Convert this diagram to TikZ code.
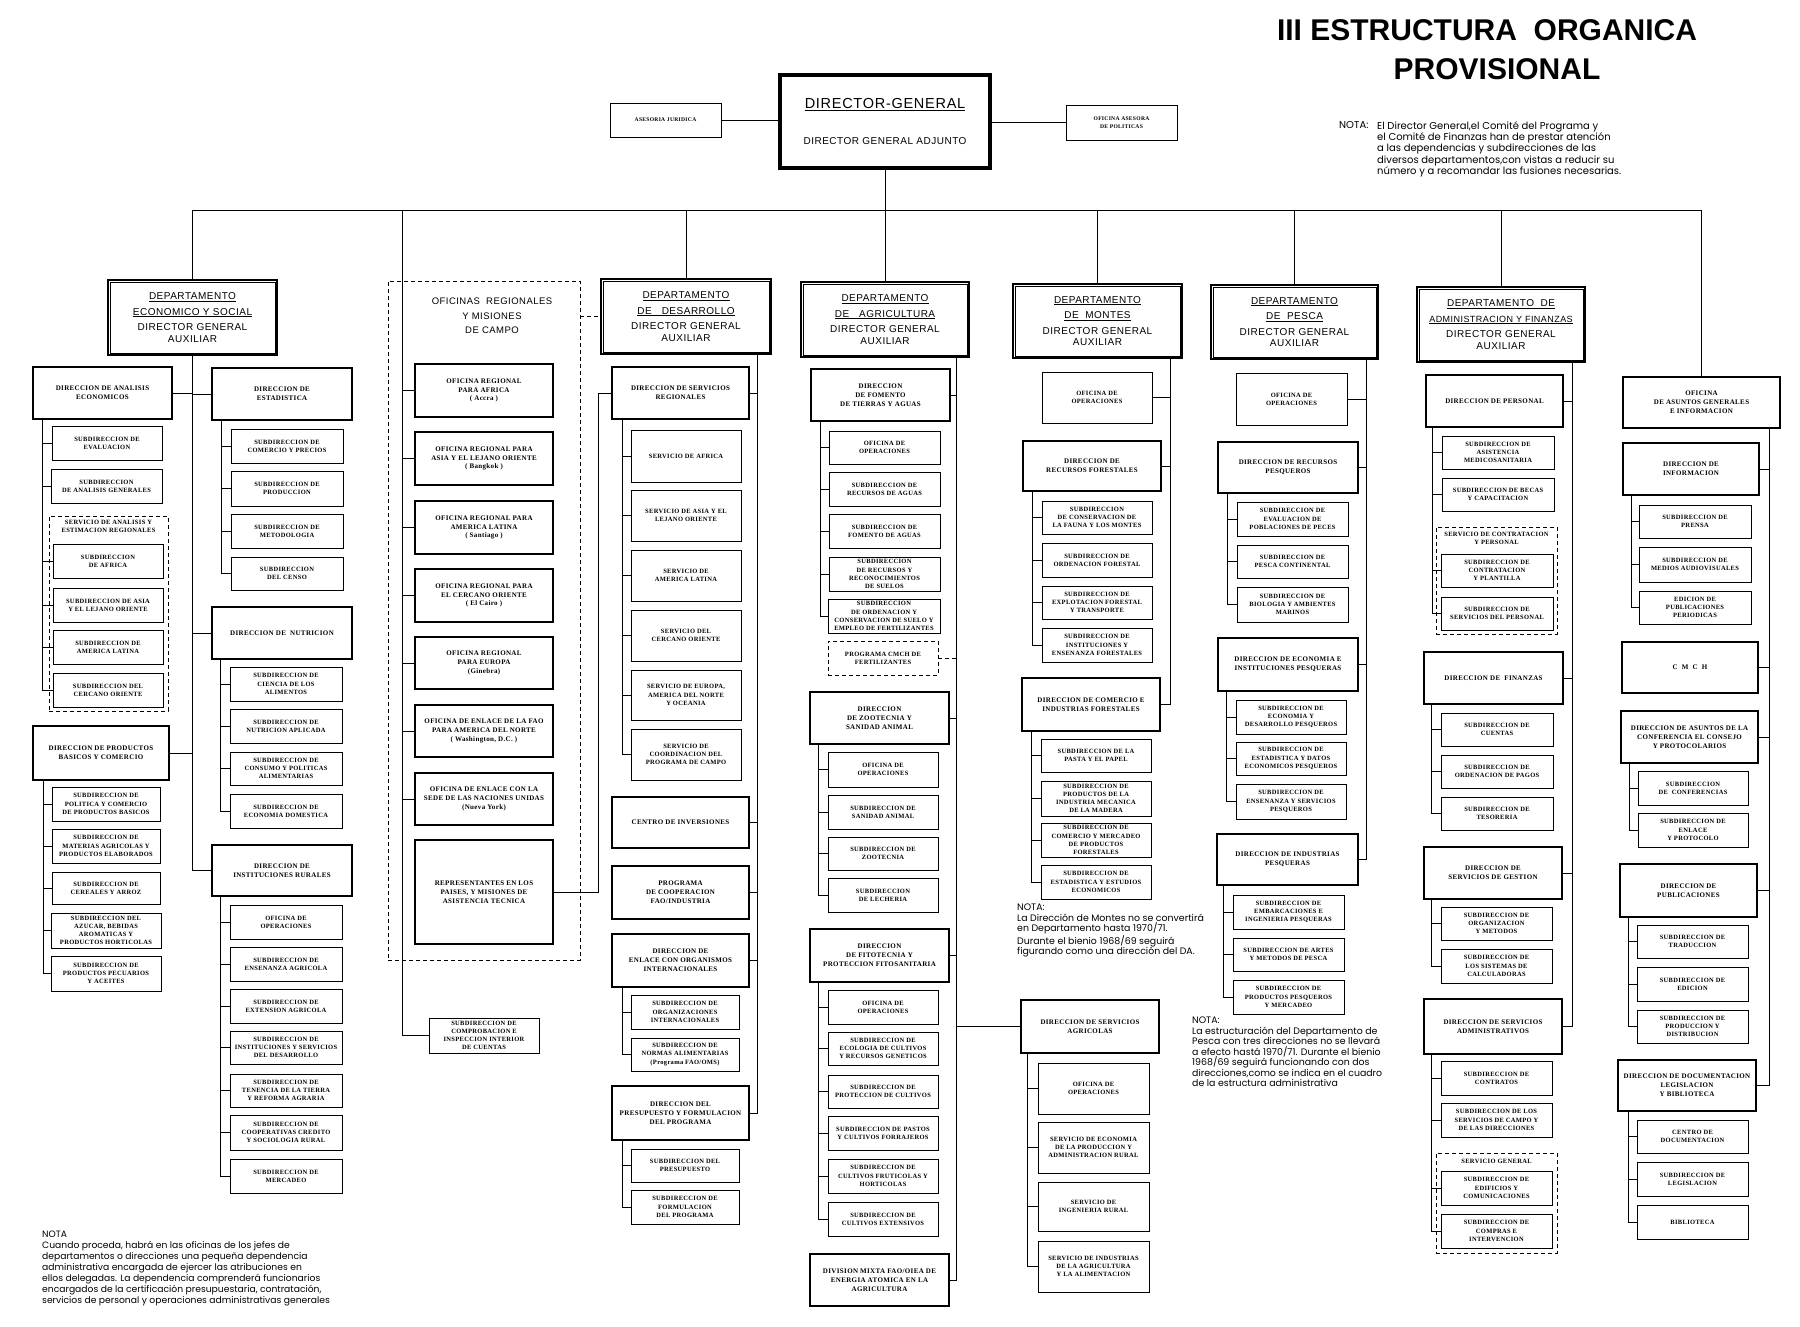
\documentclass[tikz,border=0pt]{standalone}
\usepackage{fontspec}
\usetikzlibrary{positioning}

\newfontfamily\bxserif[LetterSpace=5.0]{Liberation Serif}
\newfontfamily\bxsans[LetterSpace=5.0]{Liberation Sans}
\newfontfamily\notesans{Poppins}
\newfontfamily\titlesans{Liberation Sans}

\newcommand{\fSub}{\bxserif\bfseries\fontsize{6.5}{8.2}\selectfont}
\newcommand{\fDir}{\bxserif\bfseries\fontsize{7}{8.8}\selectfont}
\newcommand{\fSmall}{\bxserif\bfseries\fontsize{5.6}{7.5}\selectfont}
\newcommand{\fDept}{\bxsans\fontsize{10}{11.5}\selectfont}
\newcommand{\fNota}{\notesans\fontsize{9.4}{10.5}\selectfont}
\newcommand{\fTitle}{\titlesans\bfseries\fontsize{30}{34}\selectfont}

\tikzset{
  conn/.style={line width=0.8pt},
  sub/.style={draw, line width=0.9pt, inner sep=1pt, align=center, font=\fSub},
  small/.style={sub, font=\fSmall},
  dir/.style={sub, line width=2pt, font=\fDir},
  dept/.style={draw, line width=1.6pt, inner sep=1pt, align=center, font=\fDept,
    append after command={\pgfextra{\draw[line width=0.6pt]
      ([shift={(3pt,-3pt)}]\tikzlastnode.north west) rectangle
      ([shift={(-3pt,3pt)}]\tikzlastnode.south east);}}},
  dg/.style={draw, line width=3.5pt, inner sep=2pt, align=center, font=\bxsans},
  grpbox/.style={draw, line width=0.8pt, dash pattern=on 4pt off 3pt},
  grphead/.style={font=\fSub, align=center, inner sep=0pt},
  nota/.style={font=\fNota, align=left, anchor=north west, inner sep=0pt},
}

% box from its corners: [style]{name}{x1}{y1}{x2}{y2}{text}
\newcommand{\orgbox}[7][sub]{%
  \pgfmathsetmacro{\bw}{#5-#3}%
  \pgfmathsetmacro{\bh}{#6-#4}%
  \node[#1, minimum width=\bw pt, minimum height=\bh pt] (#2) at ({(#3+#5)/2},{(#4+#6)/2}) {#7};}
% trunk of a direccion down to its subdirecciones
\newcommand{\subline}[3]{\foreach \nn in {#3} \draw[conn] ([xshift=#2]#1.south west) |- (\nn.west);}

\begin{document}
\begin{tikzpicture}[x=1pt,y=-1pt]
\useasboundingbox (0,0) rectangle (1800,1327);

% title and note
\node[font=\fTitle, inner sep=0pt] (tit1) at (1487,30) {III ESTRUCTURA\ \ ORGANICA};
\node[font=\fTitle, inner sep=0pt, below=18pt of tit1, xshift=10pt] (tit2) {PROVISIONAL};
\node[nota, font=\notesans\fontsize{10}{11.4}\selectfont] (n1h) at (1339,121) {NOTA:};
\node[nota, font=\notesans\fontsize{10}{11.4}\selectfont] (n1) at (1377,121) {El Director General,el Comité del Programa y\\el Comité de Finanzas han de prestar atención\\a las dependencias y subdirecciones de las\\diversos departamentos,con vistas a reducir su\\número y a recomandar las fusiones necesarias.};

% director general
\orgbox[dg]{dg}{780}{75}{990}{168}{{\fontsize{14.5}{16}\selectfont\underline{DIRECTOR-GENERAL}}\\[24pt]{\fontsize{10}{12}\selectfont DIRECTOR GENERAL ADJUNTO}}
\orgbox[small]{aj}{610}{103}{721}{137}{ASESORIA JURIDICA}
\orgbox[small]{oa}{1066}{105}{1177}{140}{OFICINA ASESORA\\DE POLITICAS}
\draw[conn] (aj.east) -- (aj.east -| dg.west);
\draw[conn] (oa.west) -- (oa.west -| dg.east);

% departamentos
\orgbox[dept]{dES}{108}{280}{277}{355}{\underline{DEPARTAMENTO}\\[4pt]\underline{ECONOMICO Y SOCIAL}\\[4pt]DIRECTOR GENERAL\\AUXILIAR}
\orgbox[dept]{dDe}{601}{279}{771}{354}{\underline{DEPARTAMENTO}\\[4pt]\underline{DE\quad DESARROLLO}\\[4pt]DIRECTOR GENERAL\\AUXILIAR}
\orgbox[dept]{dAg}{801}{282}{969}{357}{\underline{DEPARTAMENTO}\\[4pt]\underline{DE\quad AGRICULTURA}\\[4pt]DIRECTOR GENERAL\\AUXILIAR}
\orgbox[dept]{dMo}{1013}{284}{1182}{358}{\underline{DEPARTAMENTO}\\[4pt]\underline{DE\ \ MONTES}\\[4pt]DIRECTOR GENERAL\\AUXILIAR}
\orgbox[dept]{dPe}{1211}{285}{1378}{359}{\underline{DEPARTAMENTO}\\[4pt]\underline{DE\ \ PESCA}\\[4pt]DIRECTOR GENERAL\\AUXILIAR}
\orgbox[dept]{dAd}{1417}{287}{1585}{362}{\underline{DEPARTAMENTO\ \ DE}\\[4pt]{\fontsize{9}{11}\selectfont\underline{ADMINISTRACION Y FINANZAS}}\\[4pt]DIRECTOR GENERAL\\AUXILIAR}
\orgbox[dir]{ag}{1623}{377}{1780}{428}{OFICINA\\DE ASUNTOS GENERALES\\E INFORMACION}
\orgbox[grpbox]{orG}{388}{281}{580}{960}{}
\node[font=\bxsans\fontsize{9.5}{14.5}\selectfont, align=center, below=14pt of orG.north, xshift=8pt] (orH) {OFICINAS\ \ REGIONALES\\Y MISIONES\\DE CAMPO};

% bus
\coordinate (bus) at (0,210);
\coordinate (orT) at (402,210);
\draw[conn, line width=1pt] (dES.north |- bus) -- (ag.north |- bus);
\draw[conn] (dg.south) -- (dg.south |- bus);
\foreach \d in {dES,dDe,dAg,dMo,dPe,dAd,ag} \draw[conn] (\d.north) -- (\d.north |- bus);

% economico y social
\orgbox[dir]{aeD}{33}{367}{172}{419}{DIRECCION DE ANALISIS\\ECONOMICOS}
\orgbox{ae1}{52}{426}{162}{460}{SUBDIRECCION DE\\EVALUACION}
\orgbox{ae2}{51}{469}{162}{503}{SUBDIRECCION\\DE ANALISIS GENERALES}
\orgbox[grpbox]{aeG}{49}{516}{168}{711}{}
\node[grphead, below=4pt of aeG.north] (aeH) {SERVICIO DE ANALISIS Y\\ESTIMACION REGIONALES};
\orgbox{ae3}{53}{544}{163}{578}{SUBDIRECCION\\DE AFRICA}
\orgbox{ae4}{53}{588}{163}{622}{SUBDIRECCION DE ASIA\\Y EL LEJANO ORIENTE}
\orgbox{ae5}{53}{630}{163}{664}{SUBDIRECCION DE\\AMERICA LATINA}
\orgbox{ae6}{53}{673}{163}{707}{SUBDIRECCION DEL\\CERCANO ORIENTE}
\orgbox[dir]{esD}{212}{368}{352}{420}{DIRECCION DE\\ESTADISTICA}
\orgbox{es1}{231}{429}{343}{463}{SUBDIRECCION DE\\COMERCIO Y PRECIOS}
\orgbox{es2}{231}{471}{343}{506}{SUBDIRECCION DE\\PRODUCCION}
\orgbox{es3}{231}{514}{343}{548}{SUBDIRECCION DE\\METODOLOGIA}
\orgbox{es4}{231}{557}{343}{590}{SUBDIRECCION\\DEL CENSO}
\orgbox[dir]{nuD}{212}{607}{352}{659}{DIRECCION DE\ \ NUTRICION}
\orgbox{nu1}{230}{667}{342}{701}{SUBDIRECCION DE\\CIENCIA DE LOS\\ALIMENTOS}
\orgbox{nu2}{230}{709}{342}{743}{SUBDIRECCION DE\\NUTRICION APLICADA}
\orgbox{nu3}{230}{752}{342}{785}{SUBDIRECCION DE\\CONSUMO Y POLITICAS\\ALIMENTARIAS}
\orgbox{nu4}{230}{794}{342}{828}{SUBDIRECCION DE\\ECONOMIA DOMESTICA}
\orgbox[dir]{pbD}{33}{726}{169}{780}{DIRECCION DE PRODUCTOS\\BASICOS Y COMERCIO}
\orgbox{pb1}{52}{787}{160}{821}{SUBDIRECCION DE\\POLITICA Y COMERCIO\\DE PRODUCTOS BASICOS}
\orgbox{pb2}{52}{829}{160}{863}{SUBDIRECCION DE\\MATERIAS AGRICOLAS Y\\PRODUCTOS ELABORADOS}
\orgbox{pb3}{52}{872}{160}{904}{SUBDIRECCION DE\\CEREALES Y ARROZ}
\orgbox{pb4}{51}{913}{161}{948}{SUBDIRECCION DEL\\AZUCAR, BEBIDAS\\AROMATICAS Y\\PRODUCTOS HORTICOLAS}
\orgbox{pb5}{51}{956}{161}{991}{SUBDIRECCION DE\\PRODUCTOS PECUARIOS\\Y ACEITES}
\orgbox[dir]{irD}{212}{845}{352}{896}{DIRECCION DE\\INSTITUCIONES RURALES}
\orgbox{ir1}{230}{905}{342}{939}{OFICINA DE\\OPERACIONES}
\orgbox{ir2}{230}{947}{342}{981}{SUBDIRECCION DE\\ENSENANZA AGRICOLA}
\orgbox{ir3}{230}{989}{342}{1023}{SUBDIRECCION DE\\EXTENSION AGRICOLA}
\orgbox{ir4}{230}{1031}{342}{1064}{SUBDIRECCION DE\\INSTITUCIONES Y SERVICIOS\\DEL DESARROLLO}
\orgbox{ir5}{230}{1074}{342}{1107}{SUBDIRECCION DE\\TENENCIA DE LA TIERRA\\Y REFORMA AGRARIA}
\orgbox{ir6}{230}{1115}{342}{1150}{SUBDIRECCION DE\\COOPERATIVAS CREDITO\\Y SOCIOLOGIA RURAL}
\orgbox{ir7}{230}{1159}{342}{1193}{SUBDIRECCION DE\\MERCADEO}
\foreach \n in {aeD,pbD} \draw[conn] (dES.south) |- (\n.east);
\foreach \n in {esD,nuD,irD} \draw[conn] (dES.south) |- (\n.west);
\subline{aeD}{10}{ae1,ae2,ae3,ae4,ae5,ae6}
\subline{esD}{10}{es1,es2,es3,es4}
\subline{nuD}{9}{nu1,nu2,nu3,nu4}
\subline{pbD}{11}{pb1,pb2,pb3,pb4,pb5}
\subline{irD}{9}{ir1,ir2,ir3,ir4,ir5,ir6,ir7}

% oficinas regionales
\orgbox[dir]{or1}{415}{364}{553}{417}{OFICINA REGIONAL\\PARA AFRICA\\( Accra )}
\orgbox[dir]{or2}{415}{432}{553}{485}{OFICINA REGIONAL PARA\\ASIA Y EL LEJANO ORIENTE\\( Bangkok )}
\orgbox[dir]{or3}{415}{501}{553}{554}{OFICINA REGIONAL PARA\\AMERICA LATINA\\( Santiago )}
\orgbox[dir]{or4}{415}{569}{553}{622}{OFICINA REGIONAL PARA\\EL CERCANO ORIENTE\\( El Cairo )}
\orgbox[dir]{or5}{415}{637}{553}{689}{OFICINA REGIONAL\\PARA EUROPA\\(Ginebra)}
\orgbox[dir]{or6}{415}{705}{553}{757}{OFICINA DE ENLACE DE LA FAO\\PARA AMERICA DEL NORTE\\( Washington, D.C. )}
\orgbox[dir]{or7}{415}{773}{553}{825}{OFICINA DE ENLACE CON LA\\SEDE DE LAS NACIONES UNIDAS\\(Nueva York)}
\orgbox[dir]{or8}{415}{840}{553}{944}{REPRESENTANTES EN LOS\\PAISES, Y MISIONES DE\\ASISTENCIA TECNICA}
\orgbox{orc}{429}{1018}{539}{1053}{SUBDIRECCION DE\\COMPROBACION E\\INSPECCION INTERIOR\\DE CUENTAS}
\foreach \n in {or1,or2,or3,or4,or5,or6,or7,orc} \draw[conn] (orT) |- (\n.west);
\draw[conn, dash pattern=on 4pt off 3pt] (orG.east |- dDe.west) -- (dDe.west);

% desarrollo
\coordinate (tDe) at ([xshift=-14]dDe.south east);
\orgbox[dir]{srD}{612}{367}{749}{419}{DIRECCION DE SERVICIOS\\REGIONALES}
\orgbox{sr1}{631}{430}{741}{482}{SERVICIO DE AFRICA}
\orgbox{sr2}{631}{490}{741}{541}{SERVICIO DE ASIA Y EL\\LEJANO ORIENTE}
\orgbox{sr3}{631}{550}{741}{601}{SERVICIO DE\\AMERICA LATINA}
\orgbox{sr4}{631}{610}{741}{661}{SERVICIO DEL\\CERCANO ORIENTE}
\orgbox{sr5}{631}{670}{741}{720}{SERVICIO DE EUROPA,\\AMERICA DEL NORTE\\Y OCEANIA}
\orgbox{sr6}{631}{729}{741}{780}{SERVICIO DE\\COORDINACION DEL\\PROGRAMA DE CAMPO}
\orgbox[dir]{ci}{612}{797}{749}{848}{CENTRO DE INVERSIONES}
\orgbox[dir]{pc}{612}{866}{749}{919}{PROGRAMA\\DE COOPERACION\\FAO/INDUSTRIA}
\orgbox[dir]{eoD}{612}{934}{749}{987}{DIRECCION DE\\ENLACE CON ORGANISMOS\\INTERNACIONALES}
\orgbox{eo1}{631}{995}{739}{1029}{SUBDIRECCION DE\\ORGANIZACIONES\\INTERNACIONALES}
\orgbox{eo2}{631}{1038}{739}{1071}{SUBDIRECCION DE\\NORMAS ALIMENTARIAS\\(Programa FAO/OMS)}
\orgbox[dir]{prD}{612}{1086}{749}{1140}{DIRECCION DEL\\PRESUPUESTO Y FORMULACION\\DEL PROGRAMA}
\orgbox{pr1}{631}{1149}{739}{1182}{SUBDIRECCION DEL\\PRESUPUESTO}
\orgbox{pr2}{631}{1190}{739}{1224}{SUBDIRECCION DE\\FORMULACION\\DEL PROGRAMA}
\foreach \n in {srD,ci,pc,eoD,prD} \draw[conn] (tDe) |- (\n.east);
\subline{srD}{11}{sr1,sr2,sr3,sr4,sr5,sr6}
\subline{eoD}{11}{eo1,eo2}
\subline{prD}{11}{pr1,pr2}
\draw[conn] (srD.west) -- ++(-13,0) |- (or8.east);

% agricultura
\coordinate (tAg) at ([xshift=-13]dAg.south east);
\orgbox[dir]{ftD}{811}{369}{950}{421}{DIRECCION\\DE FOMENTO\\DE TIERRAS Y AGUAS}
\orgbox{ft1}{829}{431}{940}{464}{OFICINA DE\\OPERACIONES}
\orgbox{ft2}{829}{472}{940}{506}{SUBDIRECCION DE\\RECURSOS DE AGUAS}
\orgbox{ft3}{829}{514}{940}{548}{SUBDIRECCION DE\\FOMENTO DE AGUAS}
\orgbox{ft4}{829}{557}{940}{591}{SUBDIRECCION\\DE RECURSOS Y\\RECONOCIMIENTOS\\DE SUELOS}
\orgbox{ft5}{828}{599}{940}{633}{SUBDIRECCION\\DE ORDENACION Y\\CONSERVACION DE SUELO Y\\EMPLEO DE FERTILIZANTES}
\orgbox[sub, dash pattern=on 4pt off 3pt]{ftP}{828}{641}{938}{675}{PROGRAMA CMCH DE\\FERTILIZANTES}
\orgbox[dir]{zoD}{810}{692}{949}{744}{DIRECCION\\DE ZOOTECNIA Y\\SANIDAD ANIMAL}
\orgbox{zo1}{828}{752}{938}{787}{OFICINA DE\\OPERACIONES}
\orgbox{zo2}{828}{795}{938}{829}{SUBDIRECCION DE\\SANIDAD ANIMAL}
\orgbox{zo3}{828}{837}{938}{870}{SUBDIRECCION DE\\ZOOTECNIA}
\orgbox{zo4}{828}{878}{938}{912}{SUBDIRECCION\\DE LECHERIA}
\orgbox[dir]{fiD}{810}{929}{949}{982}{DIRECCION\\DE FITOTECNIA Y\\PROTECCION FITOSANITARIA}
\orgbox{fi1}{828}{990}{938}{1024}{OFICINA DE\\OPERACIONES}
\orgbox{fi2}{828}{1032}{938}{1065}{SUBDIRECCION DE\\ECOLOGIA DE CULTIVOS\\Y RECURSOS GENETICOS}
\orgbox{fi3}{828}{1075}{938}{1108}{SUBDIRECCION DE\\PROTECCION DE CULTIVOS}
\orgbox{fi4}{828}{1116}{938}{1150}{SUBDIRECCION DE PASTOS\\Y CULTIVOS FORRAJEROS}
\orgbox{fi5}{828}{1159}{938}{1193}{SUBDIRECCION DE\\CULTIVOS FRUTICOLAS Y\\HORTICOLAS}
\orgbox{fi6}{828}{1202}{938}{1236}{SUBDIRECCION DE\\CULTIVOS EXTENSIVOS}
\orgbox[dir]{dm}{810}{1254}{949}{1306}{DIVISION MIXTA FAO/OIEA DE\\ENERGIA ATOMICA EN LA\\AGRICULTURA}
\orgbox[dir]{saD}{1021}{1000}{1159}{1053}{DIRECCION DE SERVICIOS\\AGRICOLAS}
\orgbox{sa1}{1038}{1063}{1149}{1114}{OFICINA DE\\OPERACIONES}
\orgbox{sa2}{1038}{1122}{1149}{1173}{SERVICIO DE ECONOMIA\\DE LA PRODUCCION Y\\ADMINISTRACION RURAL}
\orgbox{sa3}{1038}{1182}{1149}{1231}{SERVICIO DE\\INGENIERIA RURAL}
\orgbox{sa4}{1038}{1241}{1149}{1292}{SERVICIO DE INDUSTRIAS\\DE LA AGRICULTURA\\Y LA ALIMENTACION}
\foreach \n in {ftD,zoD,fiD,dm} \draw[conn] (tAg) |- (\n.east);
\draw[conn] (tAg) |- (saD.west);
\draw[conn, dash pattern=on 4pt off 3pt] (ftP.east) -- (ftP.east -| tAg);
\subline{ftD}{10}{ft1,ft2,ft3,ft4,ft5}
\subline{zoD}{9}{zo1,zo2,zo3,zo4}
\subline{fiD}{9}{fi1,fi2,fi3,fi4,fi5,fi6}
\subline{saD}{7}{sa1,sa2,sa3,sa4}

% montes
\coordinate (tMo) at ([xshift=-12]dMo.south east);
\orgbox{moO}{1042}{372}{1152}{423}{OFICINA DE\\OPERACIONES}
\orgbox[dir]{rfD}{1023}{441}{1161}{491}{DIRECCION DE\\RECURSOS FORESTALES}
\orgbox{rf1}{1042}{501}{1152}{534}{SUBDIRECCION\\DE CONSERVACION DE\\LA FAUNA Y LOS MONTES}
\orgbox{rf2}{1042}{543}{1152}{577}{SUBDIRECCION DE\\ORDENACION FORESTAL}
\orgbox{rf3}{1042}{586}{1152}{619}{SUBDIRECCION DE\\EXPLOTACION FORESTAL\\Y TRANSPORTE}
\orgbox{rf4}{1042}{628}{1152}{662}{SUBDIRECCION DE\\INSTITUCIONES Y\\ENSENANZA FORESTALES}
\orgbox[dir]{ifD}{1022}{678}{1160}{731}{DIRECCION DE COMERCIO E\\INDUSTRIAS FORESTALES}
\orgbox{if1}{1041}{739}{1151}{772}{SUBDIRECCION DE LA\\PASTA Y EL PAPEL}
\orgbox{if2}{1041}{781}{1151}{816}{SUBDIRECCION DE\\PRODUCTOS DE LA\\INDUSTRIA MECANICA\\DE LA MADERA}
\orgbox{if3}{1041}{823}{1151}{857}{SUBDIRECCION DE\\COMERCIO Y MERCADEO\\DE PRODUCTOS\\FORESTALES}
\orgbox{if4}{1041}{865}{1151}{899}{SUBDIRECCION DE\\ESTADISTICA Y ESTUDIOS\\ECONOMICOS}
\foreach \n in {moO,rfD,ifD} \draw[conn] (tMo) |- (\n.east);
\subline{rfD}{10}{rf1,rf2,rf3,rf4}
\subline{ifD}{10}{if1,if2,if3,if4}
\node[nota] (n3) at (1017,904) {NOTA:\\La Dirección de Montes no se convertirá\\en Departamento hasta 1970/71.\\Durante el bienio 1968/69 seguirá\\figurando como una dirección del DA.};

% pesca
\coordinate (tPe) at ([xshift=-12]dPe.south east);
\orgbox{peO}{1236}{373}{1347}{425}{OFICINA DE\\OPERACIONES}
\orgbox[dir]{rpD}{1218}{442}{1358}{493}{DIRECCION DE RECURSOS\\PESQUEROS}
\orgbox{rp1}{1237}{502}{1348}{536}{SUBDIRECCION DE\\EVALUACION DE\\POBLACIONES DE PECES}
\orgbox{rp2}{1237}{545}{1348}{578}{SUBDIRECCION DE\\PESCA CONTINENTAL}
\orgbox{rp3}{1237}{587}{1348}{622}{SUBDIRECCION DE\\BIOLOGIA Y AMBIENTES\\MARINOS}
\orgbox[dir]{epD}{1218}{638}{1358}{691}{DIRECCION DE ECONOMIA E\\INSTITUCIONES PESQUERAS}
\orgbox{ep1}{1236}{700}{1346}{734}{SUBDIRECCION DE\\ECONOMIA Y\\DESARROLLO PESQUEROS}
\orgbox{ep2}{1236}{742}{1346}{775}{SUBDIRECCION DE\\ESTADISTICA Y DATOS\\ECONOMICOS PESQUEROS}
\orgbox{ep3}{1236}{784}{1346}{819}{SUBDIRECCION DE\\ENSENANZA Y SERVICIOS\\PESQUEROS}
\orgbox[dir]{ipD}{1217}{834}{1358}{885}{DIRECCION DE INDUSTRIAS\\PESQUERAS}
\orgbox{ip1}{1233}{895}{1344}{929}{SUBDIRECCION DE\\EMBARCACIONES E\\INGENIERIA PESQUERAS}
\orgbox{ip2}{1233}{938}{1344}{971}{SUBDIRECCION DE ARTES\\Y METODOS DE PESCA}
\orgbox{ip3}{1233}{980}{1344}{1014}{SUBDIRECCION DE\\PRODUCTOS PESQUEROS\\Y MERCADEO}
\foreach \n in {peO,rpD,epD,ipD} \draw[conn] (tPe) |- (\n.east);
\subline{rpD}{10}{rp1,rp2,rp3}
\subline{epD}{9}{ep1,ep2,ep3}
\subline{ipD}{7}{ip1,ip2,ip3}
\node[nota] (n4) at (1192,1017) {NOTA:\\La estructuración del Departamento de\\Pesca con tres direcciones no se llevará\\a efecto hastá 1970/71. Durante el bienio\\1968/69 seguirá funcionando con dos\\direcciones,como se indica en el cuadro\\de la estructura administrativa};

% administracion y finanzas
\coordinate (tAd) at ([xshift=-13]dAd.south east);
\orgbox[dir]{psD}{1426}{375}{1563}{427}{DIRECCION DE PERSONAL}
\orgbox{ps1}{1442}{436}{1554}{469}{SUBDIRECCION DE\\ASISTENCIA\\MEDICOSANITARIA}
\orgbox{ps2}{1442}{478}{1554}{511}{SUBDIRECCION DE BECAS\\Y CAPACITACION}
\orgbox[grpbox]{psG}{1436}{527}{1557}{634}{}
\node[grphead, below=5pt of psG.north] (psH) {SERVICIO DE CONTRATACION\\Y PERSONAL};
\orgbox{ps3}{1441}{554}{1553}{587}{SUBDIRECCION DE\\CONTRATACION\\Y PLANTILLA}
\orgbox{ps4}{1441}{597}{1553}{630}{SUBDIRECCION DE\\SERVICIOS DEL PERSONAL}
\orgbox[dir]{fnD}{1424}{652}{1563}{704}{DIRECCION DE\ \ FINANZAS}
\orgbox{fn1}{1441}{713}{1553}{746}{SUBDIRECCION DE\\CUENTAS}
\orgbox{fn2}{1441}{755}{1553}{788}{SUBDIRECCION DE\\ORDENACION DE PAGOS}
\orgbox{fn3}{1441}{797}{1553}{830}{SUBDIRECCION DE\\TESORERIA}
\orgbox[dir]{sgD}{1424}{847}{1562}{899}{DIRECCION DE\\SERVICIOS DE GESTION}
\orgbox{sg1}{1441}{907}{1552}{940}{SUBDIRECCION DE\\ORGANIZACION\\Y METODOS}
\orgbox{sg2}{1441}{949}{1552}{983}{SUBDIRECCION DE\\LOS SISTEMAS DE\\CALCULADORAS}
\orgbox[dir]{asD}{1424}{999}{1562}{1054}{DIRECCION DE SERVICIOS\\ADMINISTRATIVOS}
\orgbox{as1}{1441}{1061}{1552}{1095}{SUBDIRECCION DE\\CONTRATOS}
\orgbox{as2}{1441}{1103}{1552}{1137}{SUBDIRECCION DE LOS\\SERVICIOS DE CAMPO Y\\DE LAS DIRECCIONES}
\orgbox[grpbox]{asG}{1436}{1153}{1557}{1253}{}
\node[grphead, below=6pt of asG.north] (asH) {SERVICIO GENERAL};
\orgbox{as3}{1441}{1171}{1552}{1205}{SUBDIRECCION DE\\EDIFICIOS Y\\COMUNICACIONES}
\orgbox{as4}{1441}{1214}{1552}{1248}{SUBDIRECCION DE\\COMPRAS E\\INTERVENCION}
\foreach \n in {psD,fnD,sgD,asD} \draw[conn] (tAd) |- (\n.east);
\subline{psD}{7}{ps1,ps2,ps3,ps4}
\subline{fnD}{8}{fn1,fn2,fn3}
\subline{sgD}{8}{sg1,sg2}
\subline{asD}{8}{as1,as2,as3,as4}

% asuntos generales e informacion
\coordinate (tAg2) at ([xshift=-12]ag.south east);
\orgbox[dir]{inD}{1623}{443}{1759}{495}{DIRECCION DE\\INFORMACION}
\orgbox{in1}{1639}{505}{1751}{538}{SUBDIRECCION DE\\PRENSA}
\orgbox{in2}{1639}{547}{1751}{582}{SUBDIRECCION DE\\MEDIOS AUDIOVISUALES}
\orgbox{in3}{1639}{591}{1751}{624}{EDICION DE\\PUBLICACIONES\\PERIODICAS}
\orgbox[dir]{cm}{1622}{642}{1758}{693}{C\ \ M\ \ C\ \ H}
\orgbox[dir]{cfD}{1621}{711}{1758}{763}{DIRECCION DE ASUNTOS DE LA\\CONFERENCIA EL CONSEJO\\Y PROTOCOLARIOS}
\orgbox{cf1}{1638}{771}{1748}{805}{SUBDIRECCION\\DE\ \ CONFERENCIAS}
\orgbox{cf2}{1638}{813}{1748}{847}{SUBDIRECCION DE\\ENLACE\\Y PROTOCOLO}
\orgbox[dir]{puD}{1620}{864}{1757}{917}{DIRECCION DE\\PUBLICACIONES}
\orgbox{pu1}{1637}{925}{1748}{958}{SUBDIRECCION DE\\TRADUCCION}
\orgbox{pu2}{1637}{967}{1748}{1001}{SUBDIRECCION DE\\EDICION}
\orgbox{pu3}{1637}{1010}{1748}{1043}{SUBDIRECCION DE\\PRODUCCION Y\\DISTRIBUCION}
\orgbox[dir]{doD}{1618}{1060}{1756}{1111}{DIRECCION DE DOCUMENTACION\\LEGISLACION\\Y BIBLIOTECA}
\orgbox{do1}{1637}{1120}{1748}{1153}{CENTRO DE\\DOCUMENTACION}
\orgbox{do2}{1637}{1162}{1748}{1196}{SUBDIRECCION DE\\LEGISLACION}
\orgbox{do3}{1637}{1205}{1748}{1239}{BIBLIOTECA}
\foreach \n in {inD,cm,cfD,puD,doD} \draw[conn] (tAg2) |- (\n.east);
\subline{inD}{9}{in1,in2,in3}
\subline{cfD}{9}{cf1,cf2}
\subline{puD}{9}{pu1,pu2,pu3}
\subline{doD}{11}{do1,do2,do3}

% nota general
\node[nota, font=\notesans\fontsize{9.2}{11}\selectfont] (n2) at (42,1231) {NOTA\\Cuando proceda, habrá en las oficinas de los jefes de\\departamentos o direcciones una pequeña dependencia\\administrativa encargada de ejercer las atribuciones en\\ellos delegadas. La dependencia comprenderá funcionarios\\encargados de la certificación presupuestaria, contratación,\\servicios de personal y operaciones administrativas generales};
\end{tikzpicture}
\end{document}
